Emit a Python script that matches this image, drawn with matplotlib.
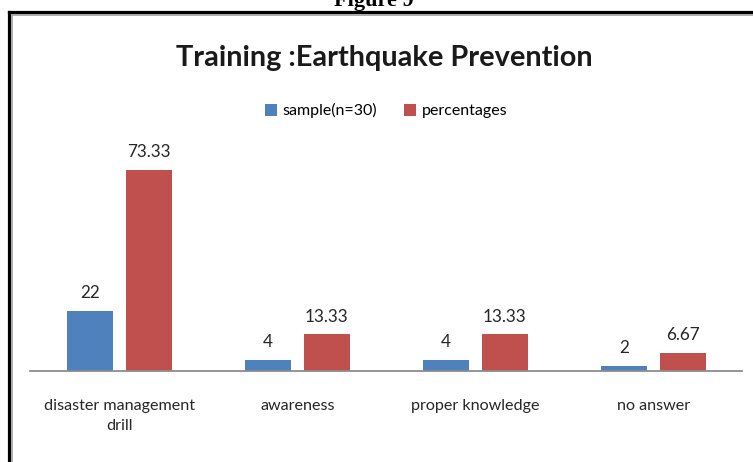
import matplotlib.pyplot as plt
import numpy as np
from matplotlib.lines import Line2D

categorias = ["disaster management\ndrill", "awareness", "proper knowledge", "no answer"]
muestra = [22, 4, 4, 2]
porcentajes = [73.33, 13.33, 13.33, 6.67]
etiquetas_muestra = ["22", "4", "4", "2"]
etiquetas_porcentaje = ["73.33", "13.33", "13.33", "6.67"]

azul = "#4F81BD"
rojo = "#C0504D"
fuente = ["Lato", "DejaVu Sans"]

fig = plt.figure(figsize=(7.53, 4.62), dpi=100)
ax = fig.add_axes([0.0405, 0.197, 0.9455, 0.4745])

x = np.arange(len(categorias))
ancho = 0.258
barras_m = ax.bar(x - 0.164, muestra, ancho, color=azul, label="sample(n=30)")
barras_p = ax.bar(x + 0.164, porcentajes, ancho, color=rojo, label="percentages")

# etiquetas de valor encima de cada barra
ax.bar_label(barras_m, labels=etiquetas_muestra, padding=7, fontsize=12.3,
             family=fuente, color="#262626")
ax.bar_label(barras_p, labels=etiquetas_porcentaje, padding=7, fontsize=12.3,
             family=fuente, color="#262626")

ax.set_xlim(-0.5, len(categorias) - 0.5)
ax.set_ylim(0, 80)
ax.set_xticks(x)
ax.set_xticklabels(categorias, fontsize=11.6, family=fuente, color="#262626",
                   linespacing=1.6)
ax.tick_params(axis="x", length=0, pad=20)
ax.set_yticks([])
for lado in ["top", "right", "left"]:
    ax.spines[lado].set_visible(False)
ax.spines["bottom"].set_color("#8C8C8C")
ax.spines["bottom"].set_linewidth(1.3)

ax.legend(loc="center", bbox_to_anchor=(0.513, 0.76), bbox_transform=fig.transFigure,
          ncol=2, frameon=False, handlelength=0.72, handleheight=0.72,
          handletextpad=0.35, columnspacing=1.7,
          prop={"family": fuente, "size": 11.5})

fig.text(0.511, 0.874, "Training :Earthquake Prevention", ha="center", va="center",
         fontsize=20.8, fontweight="bold", family=fuente, color="#1a1a1a")

# rotulo de la figura, cortado por el borde superior
fig.text(0.497, 1 - 6 / 462, "Figure 9", ha="center", va="baseline",
         fontsize=16, fontweight="bold", family="Liberation Serif")

# marco alrededor del grafico
W, H = 753, 462
def px(xp, yp):
    return xp / W, 1 - yp / H

fig.add_artist(Line2D(*zip(px(8.5, 11.5), px(8.5, 462)), color="black", lw=2.3))
fig.add_artist(Line2D(*zip(px(8.5, 11.5), px(753, 11.5)), color="black", lw=2.3))
fig.add_artist(Line2D(*zip(px(11.5, 14.5), px(11.5, 462)), color="#A0A0A0", lw=1.2))
fig.add_artist(Line2D(*zip(px(11.5, 14.5), px(753, 14.5)), color="#A0A0A0", lw=1.2))

fig.savefig("out.png", dpi=100)
